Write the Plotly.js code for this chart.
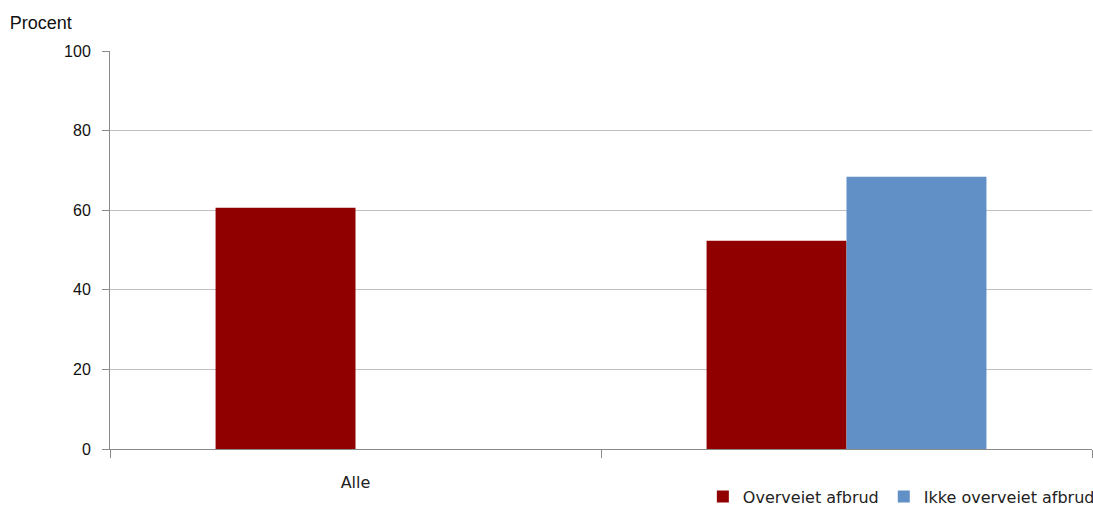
<!DOCTYPE html>
<html>
<head>
<meta charset="utf-8">
<script src="https://cdn.plot.ly/plotly-3.0.1.min.js"></script>
<style>html,body{margin:0;padding:0;background:#fff;}#chart{width:1093px;height:506px;}</style>
</head>
<body>
<div id="chart"></div>
<script>
const categories = ["Alle", " "];
const seriesNames = ["Overveiet afbrud", "Ikke overveiet afbrud"];
const overveiet = [60.6, 52.3];
const ikkeOverveiet = [null, 68.4];
const yTicks = [0, 20, 40, 60, 80, 100];

const data = [
  {type: 'bar', name: seriesNames[0], x: categories, y: overveiet, marker: {color: '#900000'}},
  {type: 'bar', name: seriesNames[1], x: categories, y: ikkeOverveiet, marker: {color: '#6190c6'}}
];

const layout = {
  width: 1093, height: 506,
  paper_bgcolor: '#fff', plot_bgcolor: '#fff',
  margin: {l: 110, r: 1, t: 51, b: 57, autoexpand: false},
  barmode: 'group', bargap: 0.43, bargroupgap: 0,
  font: {family: 'Liberation Sans, Arial, sans-serif', color: '#111'},
  title: {text: 'Procent', x: 0.009, xref: 'container', xanchor: 'left', y: 0.956, yref: 'container', yanchor: 'middle',
          font: {family: 'Liberation Sans, Arial, sans-serif', size: 18, color: '#111'}},
  xaxis: {type: 'category', showline: true, linecolor: '#8a8a8a', linewidth: 1, automargin: false,
          ticks: 'outside', tickson: 'boundaries', ticklen: 8, tickcolor: '#8a8a8a',
          ticklabelstandoff: 19, tickfont: {family: 'DejaVu Sans, sans-serif', size: 16, color: '#222'}, showgrid: false, zeroline: false, fixedrange: true},
  yaxis: {range: [0, 100], tickvals: yTicks, showline: true, linecolor: '#8a8a8a', linewidth: 1, automargin: false,
          ticks: 'outside', ticklen: 7, tickcolor: '#8a8a8a', ticklabelstandoff: 8,
          showgrid: true, gridcolor: '#c0c0c0', gridwidth: 1, zeroline: false,
          tickfont: {size: 16, color: '#111'}},
  legend: {orientation: 'h', x: 1.008, xanchor: 'right', y: -0.162, yanchor: 'bottom',
           font: {family: 'DejaVu Sans, sans-serif', size: 16, color: '#222'}, itemwidth: 30, bgcolor: 'rgba(0,0,0,0)'},
  showlegend: true
};

Plotly.newPlot('chart', data, layout, {displayModeBar: false, staticPlot: true});
</script>
</body>
</html>
